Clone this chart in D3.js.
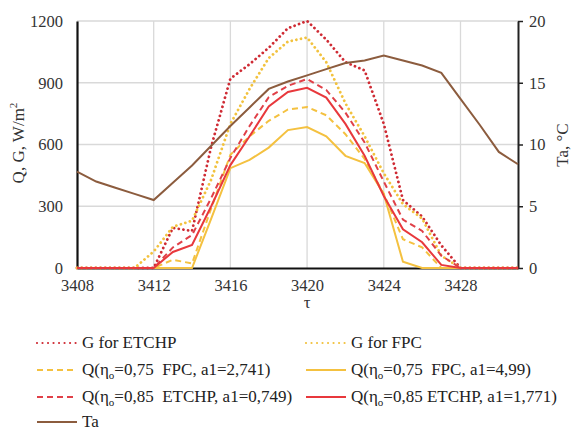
<!DOCTYPE html>
<html><head><meta charset="utf-8">
<script src="https://cdn.jsdelivr.net/npm/d3@7"></script>
<style>
html,body{margin:0;padding:0;background:#fff;}
</style></head>
<body><svg id="chart" width="571" height="434"></svg>
<script>
const hours = d3.range(3408, 3432);
const gETCHP   = [0,0,0,0,0,195,180,590,920,990,1070,1165,1200,1110,1000,960,700,330,250,110,0,0,0,0];
const gFPC     = [0,0,0,0,80,200,230,430,700,870,1020,1100,1120,1000,800,640,460,310,240,60,0,0,0,0];
const qFPC2741 = [0,0,0,0,0,40,22,290,550,640,715,770,782,742,650,530,360,140,100,0,0,0,0,0];
const qFPC499  = [0,0,0,0,0,0,0,240,485,525,585,670,685,640,545,510,360,30,0,0,0,0,0,0];
const qET0749  = [0,0,0,0,0,100,160,340,535,690,830,885,918,865,755,610,420,235,180,60,0,0,0,0];
const qET1771  = [0,0,0,0,0,78,112,300,500,640,785,855,875,828,700,545,350,188,125,15,0,0,0,0];
const ta       = [7.8,7.0,6.5,6.0,5.5,6.9,8.3,9.9,11.5,13.0,14.5,15.1,15.6,16.1,16.6,16.8,17.2,16.8,16.4,15.8,13.7,11.6,9.4,8.4];
const xTicks = [3408,3412,3416,3420,3424,3428];
const yTicks = [0,300,600,900,1200];
const y2Ticks = [0,5,10,15,20];
const legendLabels = [
  ["G for ETCHP"],
  ["G for FPC"],
  ["Q(η","o","=0,75  FPC, a1=2,741)"],
  ["Q(η","o","=0,75  FPC, a1=4,99)"],
  ["Q(η","o","=0,85  ETCHP, a1=0,749)"],
  ["Q(η","o","=0,85 ETCHP, a1=1,771)"],
  ["Ta"]
];

const FONT = '"Liberation Serif", "Times New Roman", "DejaVu Serif", serif';
const svg = d3.select("#chart");
const L = 77, R = 518, T = 21, B = 268;
const x = d3.scaleLinear().domain([3408, 3431]).range([L, R]);
const y = d3.scaleLinear().domain([0, 1200]).range([B, T]);
const y2 = d3.scaleLinear().domain([0, 20]).range([B, T]);

// gridlines
const g = svg.append("g");
g.selectAll(".hg").data(yTicks.filter(d=>d>0)).enter().append("line")
  .attr("x1", L).attr("x2", R).attr("y1", d=>y(d)).attr("y2", d=>y(d))
  .attr("stroke", "#d9d9d9").attr("stroke-width", 1.3);
g.selectAll(".vg").data(xTicks.filter(d=>d>3408)).enter().append("line")
  .attr("x1", d=>x(d)).attr("x2", d=>x(d)).attr("y1", T).attr("y2", B)
  .attr("stroke", "#d9d9d9").attr("stroke-width", 1.3);

// axes
const fmt = d3.format("d");
const xAxis = svg.append("g").attr("transform", `translate(0,${B})`)
  .call(d3.axisBottom(x).tickValues(xTicks).tickSize(0).tickPadding(11).tickFormat(fmt));
xAxis.select(".domain").attr("stroke", "#111").attr("stroke-width", 2);
const yAxis = svg.append("g").attr("transform", `translate(${L},0)`)
  .call(d3.axisLeft(y).tickValues(yTicks).tickSize(0).tickPadding(14).tickFormat(fmt));
yAxis.select(".domain").attr("stroke", "#111").attr("stroke-width", 2.2);
const y2Axis = svg.append("g").attr("transform", `translate(${R},0)`)
  .call(d3.axisRight(y2).tickValues(y2Ticks).tickSize(5).tickSizeOuter(0).tickPadding(6).tickFormat(fmt));
y2Axis.select(".domain").attr("stroke", "#222").attr("stroke-width", 2);
y2Axis.selectAll(".tick line").attr("stroke", "#222").attr("stroke-width", 1.5);
[xAxis, yAxis, y2Axis].forEach(a => a.attr("font-family", FONT).attr("font-size", 16.5));
svg.selectAll(".tick text").attr("fill", "#333").style("font-family", FONT).style("font-size", "16.5px");

// series
const series = [
  {data:gETCHP, color:"#cf2b34", type:"dot", axis:y},
  {data:gFPC, color:"#f2c23e", type:"dot", axis:y},
  {data:qFPC2741, color:"#f4c140", type:"dash", axis:y},
  {data:qFPC499, color:"#f4c140", type:"solid", axis:y},
  {data:qET0749, color:"#e04048", type:"dash", axis:y},
  {data:qET1771, color:"#e8383c", type:"solid", axis:y},
  {data:ta, color:"#8c5c3e", type:"solid", axis:y2}
];
function styleLine(sel, s){
  sel.attr("fill","none").attr("stroke", s.color);
  if (s.type === "dot") {
    sel.attr("stroke-width", 2.8).attr("stroke-linecap","round").attr("stroke-dasharray", "0.01 4.7");
  } else if (s.type === "dash") {
    sel.attr("stroke-width", 2).attr("stroke-dasharray", "6 4");
  } else {
    sel.attr("stroke-width", 2);
  }
}
series.forEach(s => {
  const line = d3.line().x((d,i)=>x(hours[i])).y(d=>s.axis(d));
  const p = svg.append("path").datum(s.data).attr("d", line);
  styleLine(p, s);
});

// axis titles
const t1 = svg.append("text").attr("transform", "translate(24,143) rotate(-90)")
  .attr("text-anchor","middle").attr("font-size",17).attr("fill","#333").style("font-family", FONT);
t1.append("tspan").text("Q, G, W/m");
t1.append("tspan").attr("font-size",11).attr("dy",-7).text("2");
svg.append("text").attr("transform", "translate(568,145) rotate(-90)")
  .attr("text-anchor","middle").attr("font-size",17).attr("fill","#333").style("font-family", FONT).text("Ta, °C");
svg.append("text").attr("x", x(3420)).attr("y", 308).attr("text-anchor","middle")
  .attr("font-size",17).attr("fill","#333").style("font-family", FONT).text("τ");

// legend
const rowsY = [343, 370, 397, 422];
series.forEach((s, i) => {
  const col = i % 2, row = Math.floor(i / 2);
  const lx = col === 0 ? 37 : 306;
  const ly = rowsY[row];
  const ln = svg.append("line").attr("x1", lx).attr("x2", lx + 40).attr("y1", ly).attr("y2", ly);
  styleLine(ln, s);
  if (s.type === "dot") ln.attr("stroke-width", 2.2).attr("stroke-dasharray","0.01 5.5");
  const tx = svg.append("text").attr("x", lx + 45).attr("y", ly + 5)
    .attr("font-size", 17).attr("fill", "#222").style("font-family", FONT).style("white-space","pre");
  const parts = legendLabels[i];
  if (parts.length === 1) tx.text(parts[0]);
  else {
    tx.append("tspan").text(parts[0]);
    tx.append("tspan").attr("font-size", 11).attr("dy", 4).text(parts[1]);
    tx.append("tspan").attr("dy", -4).text(parts[2]);
  }
});
</script></body></html>
